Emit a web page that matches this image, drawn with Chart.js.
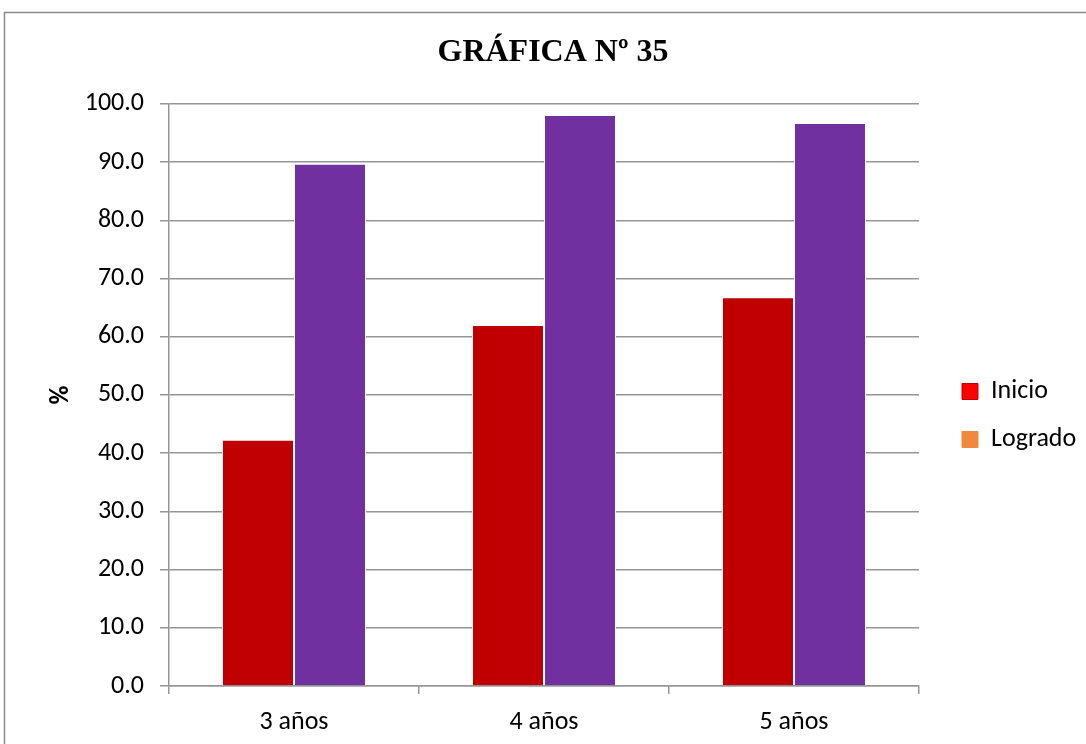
<!DOCTYPE html>
<html>
<head>
<meta charset="utf-8">
<script src="https://cdn.jsdelivr.net/npm/chart.js@4/dist/chart.umd.min.js"></script>
<style>
  html, body { margin: 0; padding: 0; background: #fff; }
  #wrap { position: relative; width: 1086px; height: 744px; }
</style>
</head>
<body>
<div id="wrap"><canvas id="c" width="1086" height="744"></canvas></div>
<script>
const categories = ['3 años', '4 años', '5 años'];
const seriesNames = ['Inicio', 'Logrado'];
const inicio = [42.3, 62.0, 66.8];
const logrado = [89.7, 98.1, 96.7];
const yTicks = [0, 10, 20, 30, 40, 50, 60, 70, 80, 90, 100];

const barColors = ['#C00000', '#7030A0'];
const legendFill = ['#FF0000', '#F0883E'];
const legendStroke = ['#C00000', '#F0883E'];
const gridColor = '#959595';
const sansFamily = 'Carlito, Calibri, Lato, sans-serif';

const framePlugin = {
  id: 'frame',
  beforeDraw(chart) {
    const ctx = chart.ctx;
    ctx.save();
    ctx.fillStyle = '#fff';
    ctx.fillRect(0, 0, chart.width, chart.height);
    ctx.strokeStyle = '#8a8a8a';
    ctx.lineWidth = 1.5;
    ctx.strokeRect(4.5, 12.5, chart.width + 20, chart.height + 20);
    ctx.restore();
  }
};

const legendPlacePlugin = {
  id: 'legendPlace',
  beforeLayout(chart) {
    const lg = chart.legend;
    if (lg && !lg._patched) {
      const orig = lg.fit;
      lg.fit = function () { orig.call(this); this.width = 167; };
      lg._patched = true;
    }
  },
  afterLayout(chart) {
    const lg = chart.legend;
    if (lg) {
      lg.left += 21; lg.right += 21;
      lg.top += 43.5; lg.bottom += 43.5;
    }
  }
};

new Chart(document.getElementById('c'), {
  type: 'bar',
  data: {
    labels: categories,
    datasets: [
      { label: seriesNames[0], data: inicio, backgroundColor: barColors[0], borderColor: '#ffffff', borderWidth: 1 },
      { label: seriesNames[1], data: logrado, backgroundColor: barColors[1], borderColor: '#ffffff', borderWidth: 1 }
    ]
  },
  options: {
    responsive: false,
    animation: false,
    devicePixelRatio: 1,
    layout: { padding: { left: 20, right: 0, top: 0, bottom: 0 } },
    datasets: { bar: { categoryPercentage: 0.576, barPercentage: 1.0 } },
    plugins: {
      tooltip: { enabled: false },
      title: {
        display: true,
        text: 'GRÁFICA Nº 35',
        color: '#000',
        font: { family: '"Liberation Serif", "Times New Roman", serif', size: 32, weight: 'bold' },
        padding: { top: 34, bottom: 31.5 }
      },
      legend: {
        position: 'right',
        align: 'center',
        labels: {
          color: '#000',
          font: { family: sansFamily, size: 26 },
          boxWidth: 16,
          boxHeight: 16,
          padding: 22,
          generateLabels() {
            return seriesNames.map((n, i) => ({
              text: n,
              fillStyle: legendFill[i],
              strokeStyle: legendStroke[i],
              lineWidth: 1,
              hidden: false,
              datasetIndex: i
            }));
          }
        }
      }
    },
    scales: {
      x: {
        offset: true,
        afterFit(scale) { scale.height = 58; },
        grid: { display: true, drawOnChartArea: false, drawTicks: true, tickLength: 8, offset: true, color: gridColor, lineWidth: 1.5 },
        border: { display: true, color: gridColor, width: 1.5 },
        ticks: { color: '#000', font: { family: sansFamily, size: 26 }, padding: 13 }
      },
      y: {
        min: 0,
        max: 100,
        afterBuildTicks(scale) { scale.ticks = yTicks.map(v => ({ value: v })); },
        afterFit(scale) { scale.width = 149; },
        grid: { color: gridColor, lineWidth: 1.5, drawTicks: true, tickLength: 9 },
        border: { display: true, color: gridColor, width: 1.5 },
        ticks: {
          color: '#000',
          font: { family: sansFamily, size: 26 },
          padding: 16,
          callback: v => Number(v).toFixed(1)
        },
        title: {
          display: true,
          text: '%',
          color: '#000',
          font: { family: sansFamily, size: 26, weight: 'bold' },
          padding: { top: 26, bottom: 0 }
        }
      }
    }
  },
  plugins: [framePlugin, legendPlacePlugin]
});
</script>
</body>
</html>
